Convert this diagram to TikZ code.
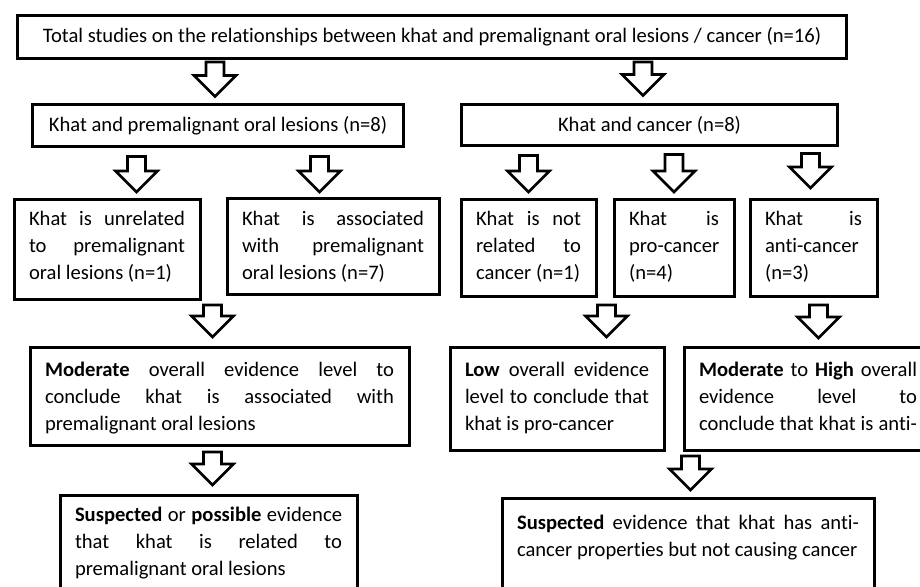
\documentclass[tikz,border=0pt]{standalone}
\usepackage{fontspec}
\setmainfont{Carlito}[Ligatures=NoCommon]
\usetikzlibrary{calc,positioning}
\newcommand{\spreadline}[1]{\makebox[\hsize][s]{#1}}
\tikzset{%
	titlebox/.style={rectangle, draw=black, line width=1.5pt, inner sep=0pt},
	textbox/.style={rectangle, draw=black, line width=1.5pt, anchor=north west, align=flush left, inner xsep=7.5pt, inner ysep=0pt},
	fatarrow/.style={draw=black, fill=white, line width=1.3pt, line join=miter,
		to path={let \p1=(\tikztostart), \p2=(\tikztotarget) in
			(\x2-4.5pt,\y1) -- (\x2-4.5pt,\y2+10.5pt) -- (\x2-10.5pt,\y2+10.5pt) -- (\x2,\y2)
			-- (\x2+10.5pt,\y2+10.5pt) -- (\x2+4.5pt,\y2+10.5pt) -- (\x2+4.5pt,\y1) -- cycle}}
}
\begin{document}
\begin{tikzpicture}[x=0.5pt, y=-0.5pt, font=\fontsize{10.3pt}{13.6pt}\selectfont]
\useasboundingbox (0,0) rectangle (920,587);
\clip (0,0) rectangle (920,587);

\node (total) [titlebox, minimum width=414.5pt, minimum height=21.5pt] at (432,37) {Total studies on the relationships between khat and premalignant oral lesions / cancer (n=16)};
\node (lesions) [titlebox, minimum width=185.5pt, minimum height=21pt] at (218,125.5) {Khat and premalignant oral lesions (n=8)};
\node (cancer) [titlebox, minimum width=188pt, minimum height=20.5pt] at (649.5,125) {Khat and cancer (n=8)};

\node (unrelated) [textbox, text width=78pt, text height=12.75pt, text depth=37.25pt] at (12.5,198.5)
	{\spreadline{Khat is unrelated}\\ \spreadline{to premalignant}\\ \mbox{oral lesions (n=1)}};
\node (associated) [textbox, text width=91pt, text height=13.25pt, text depth=34.75pt] at (225.5,197.5)
	{\spreadline{Khat is associated}\\ \spreadline{with premalignant}\\ \mbox{oral lesions (n=7)}};
\node (notrelated) [textbox, text width=52.5pt, text height=12.75pt, text depth=35.75pt] at (459.5,198.5)
	{\spreadline{Khat is not}\\ \spreadline{related to}\\ \mbox{cancer (n=1)}};
\node (procancer) [textbox, text width=45pt, text height=12.75pt, text depth=35.75pt] at (612.5,198.5)
	{\spreadline{Khat is}\\ \spreadline{pro-cancer}\\ (n=4)};
\node (anticancer) [textbox, text width=48.5pt, text height=12.75pt, text depth=35.75pt] at (748.5,198.5)
	{\spreadline{Khat is}\\ \mbox{anti-cancer}\\ (n=3)};

\node (moderate) [textbox, text width=174.5pt, text height=14.25pt, text depth=34.25pt] at (28.5,346.5)
	{\spreadline{\textbf{Moderate} overall evidence level to}\\ \spreadline{conclude khat is associated with}\\ \mbox{premalignant oral lesions}};
\node (low) [textbox, text width=92pt, text height=14.25pt, text depth=36.75pt] at (448.5,346.5)
	{\spreadline{\textbf{Low} overall evidence}\\ \spreadline{level to conclude that}\\ \mbox{khat is pro-cancer}};
\node (modhigh) [textbox, text width=109pt, text height=14.25pt, text depth=36.75pt] at (682.5,346.5)
	{\spreadline{\textbf{Moderate} to \textbf{High} overall}\\ \spreadline{evidence level to}\\ \spreadline{conclude that khat is anti-}};

\node (suspected_l) [textbox, text width=133.5pt, text height=13.25pt, text depth=50pt] at (58.5,493.5)
	{\spreadline{\textbf{Suspected} or \textbf{possible} evidence}\\ \spreadline{that khat is related to}\\ \mbox{premalignant oral lesions}};
\node (suspected_r) [textbox, text width=171pt, text height=15.75pt, text depth=50pt] at (500.5,496.5)
	{\spreadline{\textbf{Suspected} evidence that khat has anti-}\\ \mbox{cancer properties but not causing cancer}};

\draw[fatarrow] ([yshift=-1pt]total.south) to ([xshift=-1.5pt,yshift=3.25pt]lesions.north);
\draw[fatarrow] ([yshift=-1pt]total.south) to ([xshift=-3.25pt,yshift=3.75pt]cancer.north);
\draw[fatarrow] ([yshift=-4.25pt]lesions.south) to ([xshift=14.75pt,yshift=3.25pt]unrelated.north);
\draw[fatarrow] ([yshift=-4.25pt]lesions.south) to ([xshift=-6.75pt,yshift=2.75pt]associated.north);
\draw[fatarrow] ([yshift=-4.25pt]cancer.south) to ([yshift=3.25pt]notrelated.north);
\draw[fatarrow] ([yshift=-3.75pt]cancer.south) to ([yshift=3.25pt]procancer.north);
\draw[fatarrow] ([yshift=-3.25pt]cancer.south) to ([xshift=-1.5pt,yshift=5.25pt]anticancer.north);
\draw[fatarrow] ([yshift=-1.75pt]unrelated.south) to ([xshift=-3.5pt,yshift=4.75pt]moderate.north);
\draw[fatarrow] ([yshift=-3.25pt]procancer.south) to ([xshift=24.75pt,yshift=4.75pt]low.north);
\draw[fatarrow] ([yshift=-3.25pt]anticancer.south) to ([xshift=5.25pt,yshift=4.25pt]modhigh.north);
\draw[fatarrow] ([yshift=-2.75pt]moderate.south) to ([xshift=2pt,yshift=4.25pt]suspected_l.north);
\draw[fatarrow] ([yshift=-2.25pt]modhigh.south) to ([xshift=1.25pt,yshift=3.25pt]suspected_r.north);

\end{tikzpicture}
\end{document}
